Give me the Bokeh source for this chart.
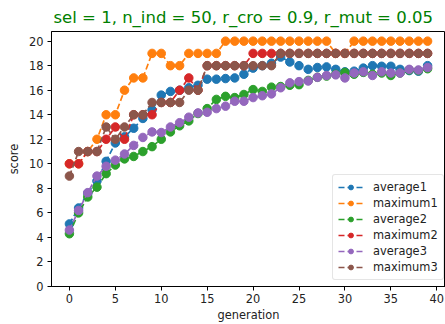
from bokeh.plotting import figure
from bokeh.models import Range1d, FixedTicker
from bokeh.embed import file_html
from bokeh.resources import INLINE

generation = list(range(40))

average1 = [5.1, 6.4, 7.6, 8.6, 10.2, 11.7, 12.2, 12.9, 13.7, 14.4,
            15.6, 15.9, 16.0, 16.2, 16.4, 16.9, 16.9, 16.95, 17.0, 17.3,
            17.8, 18.0, 18.2, 18.7, 18.3, 18.0, 17.7, 17.85, 17.9, 17.7,
            17.5, 17.55, 17.8, 18.0, 17.95, 17.95, 17.7, 17.6, 17.55, 18.0]
maximum1 = [10, 10, 11, 12, 14, 14, 16, 17, 17, 19,
            19, 18, 18, 19, 19, 19, 19, 20, 20, 20,
            20, 20, 20, 20, 20, 20, 20, 20, 20, 19,
            19, 20, 20, 20, 20, 20, 20, 20, 20, 20]
average2 = [4.3, 6.0, 7.3, 8.1, 9.2, 9.9, 10.4, 10.6, 11.0, 11.4,
            12.0, 12.6, 13.1, 13.5, 14.1, 14.5, 15.25, 15.5, 15.4, 15.65,
            16.05, 15.9, 16.25, 16.3, 16.4, 16.45, 16.8, 17.05, 17.15, 17.3,
            17.45, 17.3, 17.45, 17.3, 17.4, 17.2, 17.4, 17.65, 17.6, 17.75]
maximum2 = [10, 10, 11, 11, 12, 13, 12, 14, 14, 14,
            15, 15, 16, 17, 16, 18, 18, 18, 18, 18,
            19, 19, 19, 19, 19, 19, 19, 19, 19, 19,
            19, 19, 19, 19, 19, 19, 19, 19, 19, 19]
average3 = [4.6, 6.2, 7.65, 9.0, 9.8, 10.3, 10.8, 11.5, 12.15, 12.6,
            12.55, 13.0, 13.35, 13.8, 14.15, 14.2, 14.5, 14.7, 15.1, 15.1,
            15.4, 15.55, 15.7, 16.2, 16.6, 16.7, 16.75, 17.05, 17.2, 17.25,
            17.0, 17.4, 17.5, 17.2, 17.5, 17.4, 17.4, 17.7, 17.65, 17.85]
maximum3 = [9, 11, 11, 11, 13, 12, 13, 14, 14, 15,
            15, 15, 15, 16, 16, 18, 18, 18, 18, 18,
            18, 18, 18, 19, 19, 19, 19, 19, 19, 19,
            19, 19, 19, 19, 19, 19, 19, 19, 19, 19]

series_names = ["average1", "maximum1", "average2", "maximum2", "average3", "maximum3"]
series_values = [average1, maximum1, average2, maximum2, average3, maximum3]
colors = ["#1f77b4", "#ff7f0e", "#2ca02c", "#d62728", "#9467bd", "#8c564b"]

x_ticks = [0, 5, 10, 15, 20, 25, 30, 35, 40]
y_ticks = [0, 2, 4, 6, 8, 10, 12, 14, 16, 18, 20]
title_text = "sel = 1, n_ind = 50, r_cro = 0.9, r_mut = 0.05"
x_label = "generation"
y_label = "score"

FONT = "DejaVu Sans"
X0, X1 = -1.95, 40.95
Y0, Y1 = 0, 20.785

p = figure(width=445, height=324, output_backend="svg", toolbar_location=None,
           x_range=Range1d(X0, X1), y_range=Range1d(Y0, Y1),
           min_border_left=51, min_border_right=0, min_border_top=31,
           min_border_bottom=37)

p.title.text = title_text
p.title.text_font = FONT
p.title.text_font_size = "16.5px"
p.title.text_font_style = "normal"
p.title.text_color = "#008000"
p.title.align = "left"
p.title.offset = 2
p.title.vertical_align = "bottom"
p.title.standoff = 10

for name, vals, c in zip(series_names, series_values, colors):
    p.line(generation, vals, line_color=c, line_width=1.7, line_dash="6 3",
           legend_label=name)
    p.scatter(generation, vals, size=8.5, fill_color=c, line_color=c,
              legend_label=name)

p.xgrid.visible = False
p.ygrid.visible = False
p.outline_line_color = "black"
p.outline_line_width = 1
p.background_fill_color = "white"
p.border_fill_color = "white"

for ax in (p.xaxis[0], p.yaxis[0]):
    ax.axis_line_color = "black"
    ax.axis_line_width = 1
    ax.major_tick_line_color = "black"
    ax.major_tick_out = 4
    ax.major_tick_in = 0
    ax.minor_tick_line_color = None
    ax.major_label_text_font = FONT
    ax.major_label_text_font_size = "11.4px"
    ax.major_label_text_color = "#222222"
    ax.axis_label_text_font = FONT
    ax.axis_label_text_font_size = "11.4px"
    ax.axis_label_text_font_style = "normal"
    ax.axis_label_text_color = "#222222"

p.xaxis[0].ticker = FixedTicker(ticks=x_ticks)
p.yaxis[0].ticker = FixedTicker(ticks=y_ticks)
p.xaxis[0].axis_label = x_label
p.yaxis[0].axis_label = y_label
p.xaxis[0].major_label_standoff = 3
p.xaxis[0].axis_label_standoff = 2
p.yaxis[0].major_label_standoff = 4
p.yaxis[0].axis_label_standoff = 5

lg = p.legend[0]
lg.location = (281, 6)
lg.label_text_font = FONT
lg.label_text_font_size = "11.4px"
lg.label_text_color = "#222222"
lg.glyph_width = 25
lg.glyph_height = 12
lg.label_height = 12
lg.label_standoff = 10
lg.spacing = 2
lg.padding = 5
lg.margin = 0
lg.border_line_color = "#cccccc"
lg.border_line_width = 1
lg.background_fill_color = "white"
lg.background_fill_alpha = 0.8
if "border_radius" in lg.properties():
    lg.border_radius = 3

open("out.html", "w").write(file_html(p, INLINE))
